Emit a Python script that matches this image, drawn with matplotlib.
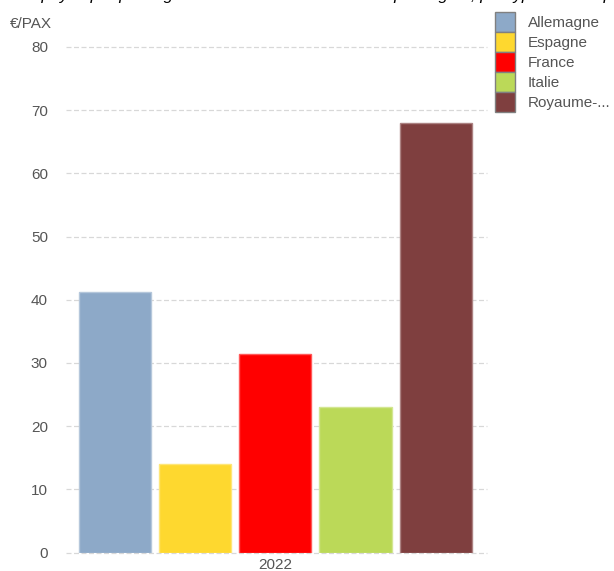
import matplotlib
matplotlib.use("Agg")
import matplotlib.pyplot as plt
from matplotlib.patches import Patch
from matplotlib.colors import to_rgb

plt.rcParams['font.family'] = ['Liberation Sans', 'DejaVu Sans']

# data
year = "2022"
countries = ["Allemagne", "Espagne", "France", "Italie", "Royaume-..."]
values = [41.2, 14.0, 31.4, 23.0, 68.0]
colors = ["#8da9c8", "#fed82f", "#ff0000", "#bbd958", "#7f3f3f"]
yticks = [0, 10, 20, 30, 40, 50, 60, 70, 80]
title = ("Frais aéroportuaires payés par passager en fonction du nombre des "
         "passagers, par types d'entreprise et par pays")


def lighten(c, f=0.35):
    r, g, b = to_rgb(c)
    return (r + (1 - r) * f, g + (1 - g) * f, b + (1 - b) * f)


fig = plt.figure(figsize=(6.14, 5.71), dpi=100)
ax = fig.add_axes([66 / 614, 18.5 / 571, 421 / 614, 505.5 / 571])

xs = list(range(len(countries)))
ax.bar(xs, values, width=0.9, color=colors,
       edgecolor=[lighten(c) for c in colors], linewidth=1, zorder=3)

ax.set_xlim(-0.61, 4.64)
ax.set_ylim(0, 80)
ax.set_yticks(yticks)
ax.set_xticks([2])
ax.set_xticklabels([year])
ax.tick_params(axis='both', length=0, labelsize=11, colors='#555555')
ax.tick_params(axis='y', pad=13)
ax.tick_params(axis='x', pad=4)
ax.yaxis.grid(True, color='#d8d8d8', linestyle=(0, (4, 2)), linewidth=0.9)
ax.set_axisbelow(True)
for s in ax.spines.values():
    s.set_visible(False)
for gl in ax.yaxis.get_gridlines():
    gl.set_clip_on(False)

fig.text(10 / 614, 1 - 24.5 / 571, "€/PAX", fontsize=11, color='#555555',
         va='center', ha='left')

# title sits mostly above the visible area, only descenders show
fig.text(0.5, 1 + 0.3 / 571, title, fontsize=12, style='italic',
         ha='center', va='baseline', color='black')

handles = [Patch(facecolor=c, edgecolor='#808080', linewidth=1) for c in colors]
fig.legend(handles, countries, loc='upper left',
           bbox_to_anchor=(495 / 614, 1 - 12 / 571), frameon=False,
           fontsize=11, handlelength=1.3, handleheight=1.64, labelspacing=0.0,
           handletextpad=0.85, borderpad=0, borderaxespad=0,
           labelcolor='#555555')

fig.savefig("out.png", dpi=100)
